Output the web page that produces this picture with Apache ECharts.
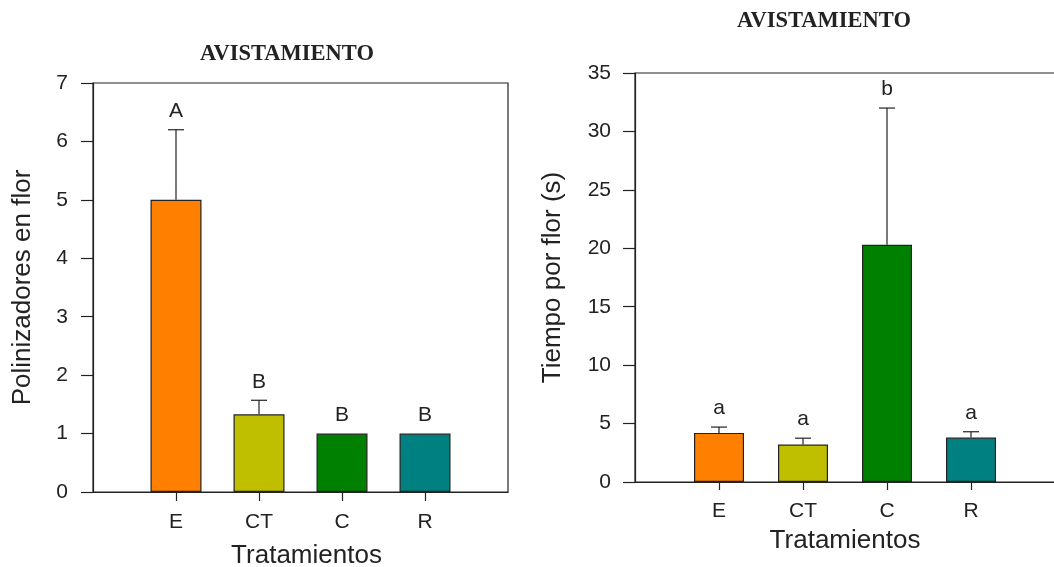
<!DOCTYPE html>
<html>
<head>
<meta charset="utf-8">
<script src="https://cdn.jsdelivr.net/npm/echarts@6/dist/echarts.min.js"></script>
<style>
  html, body { margin: 0; padding: 0; background: #fff; overflow: hidden; }
  #chart { width: 1054px; height: 567px; }
</style>
</head>
<body>
<div id="chart"></div>
<script>
// Treatments shown on both panels
const categories = ['E', 'CT', 'C', 'R'];

// Left panel: pollinators per flower (mean, upper error, significance letter)
const visitMeans = [5.0, 1.33, 1.0, 1.0];
const visitErrors = [1.2, 0.24, 0, 0];
const visitLetters = ['A', 'B', 'B', 'B'];

// Right panel: time per flower in seconds
const timeMeans = [4.2, 3.2, 20.3, 3.8];
const timeErrors = [0.5, 0.55, 11.7, 0.5];
const timeLetters = ['a', 'a', 'b', 'a'];

// Axis ranges
const visitAxis = { min: 0, max: 7, step: 1 };
const timeAxis = { min: 0, max: 35, step: 5 };

// Styling
const barColors = ['#FF8000', '#BFBF00', '#008000', '#008080'];
const ink = '#222';
const sans = '"Liberation Sans", Arial, sans-serif';
const serif = '"Liberation Serif", "Times New Roman", serif';

// one empty slot on each side so the bars sit on whole-step positions
const slots = [''].concat(categories, ['']);

function barData(means) {
  return means.map((v, i) => ({
    value: [i + 1, v],
    itemStyle: { color: barColors[i] }
  }));
}

function errorData(means, errs) {
  return means.map((v, i) => [i + 1, v, errs[i]]);
}

function errorRenderer(letters) {
  return function (params, api) {
    const x = api.value(0);
    const m = api.value(1);
    const e = api.value(2);
    const base = api.coord([x, m]);
    const top = api.coord([x, m + e]);
    const children = [];
    if (e > 0) {
      children.push({
        type: 'line',
        shape: { x1: top[0], y1: base[1], x2: top[0], y2: top[1] },
        style: { stroke: ink, lineWidth: 1.2 }
      });
      children.push({
        type: 'line',
        shape: { x1: top[0] - 8, y1: top[1], x2: top[0] + 8, y2: top[1] },
        style: { stroke: ink, lineWidth: 1.2 }
      });
    }
    children.push({
      type: 'text',
      x: top[0],
      y: top[1] - 8,
      style: {
        text: letters[params.dataIndex],
        fill: ink,
        fontSize: 21,
        fontFamily: sans,
        align: 'center',
        verticalAlign: 'bottom'
      }
    });
    return { type: 'group', children: children };
  };
}

function xAxisFor(gridIndex, tickLen, labelMargin, nameGap, namePad) {
  return {
    type: 'category',
    gridIndex: gridIndex,
    data: slots,
    boundaryGap: false,
    name: 'Tratamientos',
    nameLocation: 'middle',
    nameGap: nameGap,
    nameTextStyle: { fontSize: 26, fontFamily: sans, color: ink, padding: [0, 0, 0, namePad] },
    axisLine: { show: true, lineStyle: { color: ink, width: 1.2 } },
    axisTick: {
      show: true,
      length: tickLen,
      interval: (idx) => idx >= 1 && idx <= categories.length,
      lineStyle: { color: ink, width: 1.2 }
    },
    axisLabel: {
      interval: 0,
      margin: labelMargin,
      fontSize: 21,
      fontFamily: sans,
      color: ink
    },
    splitLine: { show: false }
  };
}

function yAxisFor(gridIndex, range, name, nameGap, labelMargin) {
  return {
    type: 'value',
    gridIndex: gridIndex,
    min: range.min,
    max: range.max,
    interval: range.step,
    name: name,
    nameLocation: 'middle',
    nameGap: nameGap,
    nameTextStyle: { fontSize: 26, fontFamily: sans, color: ink },
    axisLine: { show: true, lineStyle: { color: ink, width: 1.2 } },
    axisTick: { show: true, length: 12, lineStyle: { color: ink, width: 1.2 } },
    axisLabel: { margin: labelMargin, fontSize: 21, fontFamily: sans, color: ink },
    splitLine: { show: false }
  };
}

const chart = echarts.init(document.getElementById('chart'), null, { renderer: 'canvas' });

chart.setOption({
  animation: false,
  backgroundColor: '#fff',
  title: [
    {
      text: 'AVISTAMIENTO',
      left: 282,
      top: 38,
      textAlign: 'center',
      textStyle: { fontFamily: serif, fontWeight: 'bold', fontSize: 22.5, color: ink }
    },
    {
      text: 'AVISTAMIENTO',
      left: 819,
      top: 5,
      textAlign: 'center',
      textStyle: { fontFamily: serif, fontWeight: 'bold', fontSize: 22.5, color: ink }
    }
  ],
  grid: [
    {
      left: 93, top: 83, width: 415, height: 409,
      outerBoundsMode: 'none',
      show: true, borderColor: ink, borderWidth: 1.2, backgroundColor: 'transparent'
    },
    {
      left: 635, top: 73, width: 420, height: 409,
      outerBoundsMode: 'none',
      show: true, borderColor: ink, borderWidth: 1.2, backgroundColor: 'transparent'
    }
  ],
  xAxis: [
    xAxisFor(0, 9, 20, 51, 12),
    xAxisFor(1, 8, 19, 46, 0)
  ],
  yAxis: [
    yAxisFor(0, visitAxis, 'Polinizadores en flor', 57, 25),
    yAxisFor(1, timeAxis, 'Tiempo por flor (s)', 69, 24)
  ],
  series: [
    {
      type: 'bar',
      xAxisIndex: 0,
      yAxisIndex: 0,
      barWidth: 51,
      data: barData(visitMeans),
      itemStyle: { borderColor: ink, borderWidth: 1.2 }
    },
    {
      type: 'custom',
      xAxisIndex: 0,
      yAxisIndex: 0,
      data: errorData(visitMeans, visitErrors),
      encode: { x: 0, y: 1 },
      renderItem: errorRenderer(visitLetters),
      z: 5
    },
    {
      type: 'bar',
      xAxisIndex: 1,
      yAxisIndex: 1,
      barWidth: 50,
      data: barData(timeMeans),
      itemStyle: { borderColor: ink, borderWidth: 1.2 }
    },
    {
      type: 'custom',
      xAxisIndex: 1,
      yAxisIndex: 1,
      data: errorData(timeMeans, timeErrors),
      encode: { x: 0, y: 1 },
      renderItem: errorRenderer(timeLetters),
      z: 5
    }
  ]
});
</script>
</body>
</html>
